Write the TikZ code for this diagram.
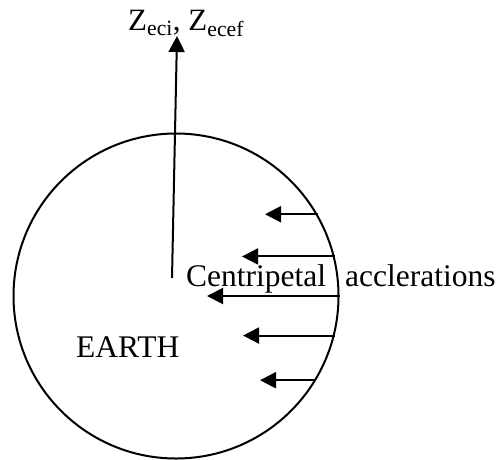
\documentclass[tikz,border=0pt]{standalone}
\usepackage{fontspec}
\setmainfont{Liberation Serif}
\usetikzlibrary{arrows.meta}
\begin{document}
\begin{tikzpicture}[x=1pt,y=-1pt,
  txt/.style={inner sep=0pt,anchor=base west,font=\fontsize{31.5}{36}\selectfont},
  ztxt/.style={inner sep=0pt,anchor=base west,font=\fontsize{31}{34}\selectfont},
  acc/.style={line width=2pt,-{Triangle[length=16pt,width=16pt]}},
  globe/.style={draw,line width=2pt,circle,minimum size=325pt,inner sep=0pt}]
\useasboundingbox (0,0) rectangle (500,459);
\node[globe] (earth) at (176,296) {};
\coordinate (zbase) at (172,278);
\coordinate (ztip) at (177,36);
\draw[acc] (zbase) -- (ztip);
\node[ztxt] (zlabel) at (128,30) {Z\textsubscript{eci}, Z\textsubscript{ecef}};
\node[txt] (centri) at (186,286) {Centripetal};
\node[txt] (accl) at (345,286) {acclerations};
\node[txt] (earthlabel) at (76,357) {EARTH};
\coordinate (t1) at (265,213);
\coordinate (t2) at (242,255);
\coordinate (t3) at (207,295);
\coordinate (t4) at (243,337);
\coordinate (t5) at (260,381);
\draw[acc] (earth.30.7) -- (earth.30.7 -| t1);
\draw[acc] (earth.14.6) -- (earth.14.6 -| t2);
\draw[acc] (earth.0) -- (earth.0 -| t3);
\draw[acc] (earth.-14.6) -- (earth.-14.6 -| t4);
\draw[acc] (earth.-31.5) -- (earth.-31.5 -| t5);
\end{tikzpicture}
\end{document}
